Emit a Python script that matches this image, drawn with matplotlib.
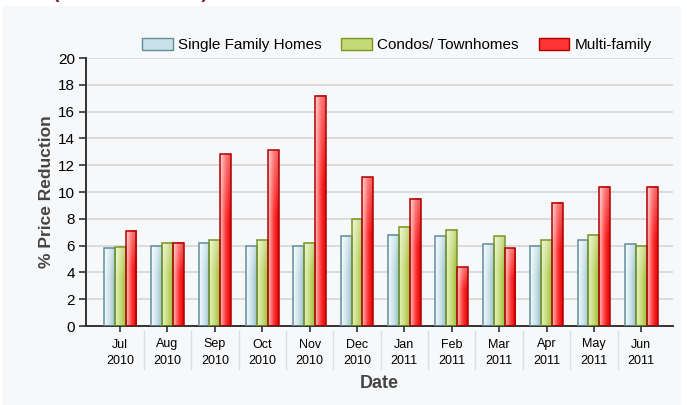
import numpy as np
import matplotlib
matplotlib.use("Agg")
import matplotlib.pyplot as plt
from matplotlib.patches import FancyBboxPatch, Rectangle
from matplotlib.transforms import blended_transform_factory
from matplotlib.colors import to_rgb

plt.rcParams['font.family'] = ['Liberation Sans', 'DejaVu Sans']

months = ["Jul\n2010", "Aug\n2010", "Sep\n2010", "Oct\n2010", "Nov\n2010", "Dec\n2010",
          "Jan\n2011", "Feb\n2011", "Mar\n2011", "Apr\n2011", "May\n2011", "Jun\n2011"]
single_family = [5.8, 6.0, 6.2, 6.0, 6.0, 6.7, 6.8, 6.7, 6.1, 6.0, 6.4, 6.1]
condos = [5.9, 6.2, 6.4, 6.4, 6.2, 8.0, 7.4, 7.2, 6.7, 6.4, 6.8, 6.0]
multi_family = [7.1, 6.2, 12.8, 13.1, 17.2, 11.1, 9.5, 4.4, 5.8, 9.2, 10.4, 10.4]
series_names = ["Single Family Homes", "Condos/ Townhomes", "Multi-family"]

# (left light, middle, right dark, edge)
styles = [
    ("#f6fbfc", "#c9e1e8", "#98c0cc", "#5f8e9c"),
    ("#e8f2c0", "#c4da78", "#a2bc3a", "#789526"),
    ("#ffc4c4", "#ff3434", "#e00000", "#b00000"),
]


def gradient(light, mid, dark, n=40, m=30):
    l, c, d = [np.array(to_rgb(x)) for x in (light, mid, dark)]
    t = np.linspace(0, 1, n)
    row = np.empty((n, 3))
    for i, v in enumerate(t):
        if v < 0.55:
            a = v / 0.55
            row[i] = l * (1 - a) + c * a
        else:
            a = (v - 0.55) / 0.45
            row[i] = c * (1 - a) + d * a
    img = np.repeat(row[None, :, :], m, axis=0)
    # glossy lighter top part
    vv = np.linspace(0, 1, m)[:, None, None]  # 0 = top
    light_amt = np.clip(0.35 - vv * 0.9, 0, None)
    img = img * (1 - light_amt) + 1.0 * light_amt
    return img


fig = plt.figure(figsize=(6.87, 4.05), dpi=100)
fig.patch.set_facecolor("white")
fig.patches.append(Rectangle((2 / 687, 0), 679 / 687, 399 / 405, transform=fig.transFigure,
                             facecolor="#f7f8fa", edgecolor="none", zorder=-10))

# title sits above the visible area, only the bracket tails show
fig.text(130 / 687, 1.0 + 1.5 / 405, "(Last 12 Months)", color="#8b1a1a", fontsize=14,
         fontweight="bold", ha="center", va="baseline")

ax = fig.add_axes([86 / 687, 79 / 405, 587 / 687, 268 / 405])
ax.set_facecolor("none")

x = np.arange(len(months))
w = 0.23
offsets = [-w, 0, w]
all_vals = [single_family, condos, multi_family]

for vals, off, (lc, mc, dc, ec), name in zip(all_vals, offsets, styles, series_names):
    img = gradient(lc, mc, dc)
    for xi, v in zip(x, vals):
        ax.imshow(img, extent=[xi + off - w / 2, xi + off + w / 2, 0, v], aspect="auto",
                  interpolation="bilinear", zorder=2)
    ax.bar(x + off, vals, width=w, fill=False, edgecolor=ec, linewidth=1.1, zorder=3)

ax.set_xlim(-0.72, 11.67)
ax.set_ylim(0, 20)
ax.set_yticks(np.arange(0, 21, 2))
ax.yaxis.grid(True, color="#d6d6d6", linewidth=1.2)
ax.set_axisbelow(True)
ax.set_xticks(x)
ax.set_xticklabels(months, fontsize=9, linespacing=1.45)
ax.tick_params(axis="y", labelsize=11, length=5, width=1.2, color="#333333", pad=3)
ax.tick_params(axis="x", length=4, width=1.2, color="#333333", pad=5)
for s in ["top", "right"]:
    ax.spines[s].set_visible(False)
for s in ["left", "bottom"]:
    ax.spines[s].set_color("#333333")
    ax.spines[s].set_linewidth(1.4)

# separators under the category labels
trans = blended_transform_factory(ax.transData, ax.transAxes)
for b in x[:-1] + 0.5:
    ax.plot([b, b], [-0.02, -0.16], transform=trans, color="#dcdcdc", linewidth=1, clip_on=False)

ax.set_ylabel("% Price Reduction", fontsize=12.5, fontweight="bold", color="#444444", labelpad=3)
ax.set_xlabel("Date", fontsize=13, fontweight="bold", color="#444444", labelpad=6)

handles = []
for (lc, mc, dc, ec) in styles:
    handles.append(FancyBboxPatch((0, 0), 1, 1, boxstyle="round,pad=0.05", facecolor=mc, edgecolor=ec))
fig.legend(handles, series_names, loc="center", bbox_to_anchor=(397 / 687, 1 - 45 / 405), ncol=3,
           frameon=False, fontsize=11, handlelength=2.0, handleheight=0.85, handletextpad=0.35,
           columnspacing=1.3)

fig.savefig("out.png", dpi=100)
